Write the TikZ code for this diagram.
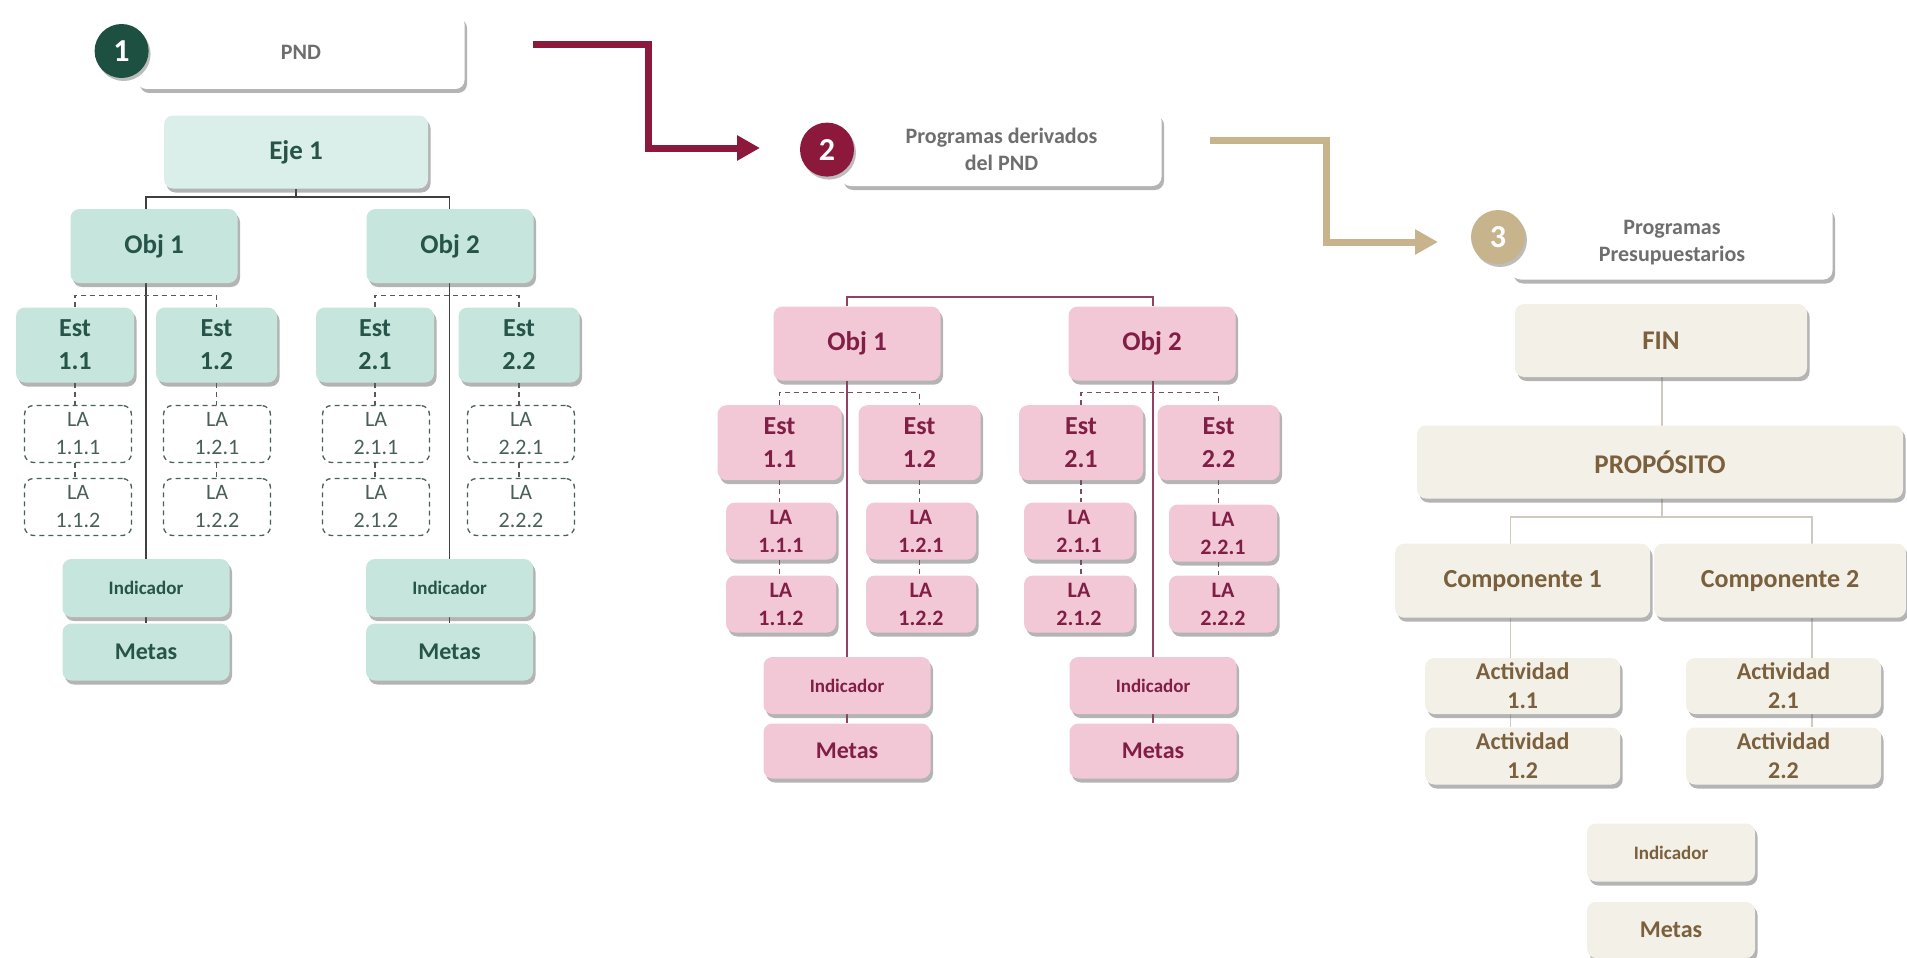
\documentclass[tikz,border=0pt]{standalone}
\usepackage{fontspec}
\setmainfont{Carlito}
\usetikzlibrary{shadows,arrows.meta,backgrounds}
\definecolor{gfill}{HTML}{C6E5DD}
\definecolor{gfillL}{HTML}{DAEFEA}
\definecolor{gtext}{HTML}{265448}
\definecolor{gdark}{HTML}{1E5041}
\definecolor{gla}{HTML}{4A5F59}
\definecolor{pfill}{HTML}{F3C8D6}
\definecolor{ptext}{HTML}{801E46}
\definecolor{pdark}{HTML}{8C193C}
\definecolor{tfill}{HTML}{F3F0E8}
\definecolor{ttext}{HTML}{7A603C}
\definecolor{tdark}{HTML}{C8B48C}
\definecolor{tline}{HTML}{CFCAC0}
\definecolor{htext}{HTML}{6E6E6E}
\tikzset{
  box/.style={rounded corners=9pt, align=center, inner sep=2pt,
    drop shadow={shadow xshift=2.5pt, shadow yshift=-4pt, opacity=0.45, fill=black!65}},
  wh/.style 2 args={minimum width=#1pt, minimum height=#2pt},
  gbox/.style={box, fill=gfill, text=gtext},
  pbox/.style={box, fill=pfill, text=ptext},
  tbox/.style={box, fill=tfill, text=ttext},
  hbox/.style={box, fill=white, text=htext, font=\bfseries\fontsize{22}{27}\selectfont},
  glabox/.style={rounded corners=9pt, align=center, inner sep=2pt, fill=white,
    draw=gla, line width=1.3pt, dash pattern=on 5pt off 4pt, text=gla,
    font=\fontsize{22}{28}\selectfont},
  num/.style={circle, minimum size=54pt, inner sep=0pt, text=white,
    font=\bfseries\fontsize{32}{36}\selectfont,
    drop shadow={shadow xshift=2pt, shadow yshift=-3pt, opacity=0.4, fill=black!65}},
  fObj/.style={font=\bfseries\fontsize{27}{33}\selectfont},
  fEst/.style={font=\bfseries\fontsize{26}{33}\selectfont},
  fLA/.style={font=\bfseries\fontsize{22}{28}\selectfont},
  fInd/.style={font=\bfseries\fontsize{19}{24}\selectfont},
  fMet/.style={font=\bfseries\fontsize{24}{28}\selectfont},
  fAct/.style={font=\bfseries\fontsize{24}{29}\selectfont},
  gline/.style={draw=black!75, line width=1.6pt},
  gdash/.style={draw=black!65, line width=1.3pt, dash pattern=on 5pt off 4pt},
  pline/.style={draw=ptext!85, line width=1.6pt},
  pdash/.style={draw=ptext!55!gray, line width=1.3pt, dash pattern=on 5pt off 4pt},
  tl/.style={draw=tline, line width=1.5pt},
  bigarrow/.style={line width=7pt, -{Triangle[length=23pt,width=24pt]}},
}
\begin{document}
\begin{tikzpicture}[x=1pt,y=-1pt]
\useasboundingbox (0,0) rectangle (1907,958);

% ---------------- Section 1 (green) ----------------
\node[hbox, wh={327}{74}] (pnd) at (301,52) {PND};
\node[num, fill=gdark] (c1) at (121.6,51) {1};
\node[gbox, fill=gfillL, wh={264}{73}, fObj] (eje) at (296,152) {Eje 1};
\node[gbox, wh={167}{74}, fObj] (go1) at (154,246) {Obj 1};
\node[gbox, wh={167}{74}, fObj] (go2) at (450,246) {Obj 2};
\node[gbox, wh={118}{75}, fEst] (ge11) at (75,345) {Est\\1.1};
\node[gbox, wh={121}{75}, fEst] (ge12) at (216.5,345) {Est\\1.2};
\node[gbox, wh={118}{75}, fEst] (ge21) at (375,345) {Est\\2.1};
\node[gbox, wh={121}{75}, fEst] (ge22) at (519,345) {Est\\2.2};
\node[glabox, wh={107}{57}] (gl111) at (78,434) {LA\\1.1.1};
\node[glabox, wh={107}{57}] (gl112) at (78,507) {LA\\1.1.2};
\node[glabox, wh={107}{57}] (gl121) at (217,434) {LA\\1.2.1};
\node[glabox, wh={107}{57}] (gl122) at (217,507) {LA\\1.2.2};
\node[glabox, wh={107}{57}] (gl211) at (376,434) {LA\\2.1.1};
\node[glabox, wh={107}{57}] (gl212) at (376,507) {LA\\2.1.2};
\node[glabox, wh={107}{57}] (gl221) at (521,434) {LA\\2.2.1};
\node[glabox, wh={107}{57}] (gl222) at (521,507) {LA\\2.2.2};
\node[gbox, wh={167}{58}, fInd] (gi1) at (146,588) {Indicador};
\node[gbox, wh={167}{57}, fMet] (gm1) at (146,652) {Metas};
\node[gbox, wh={167}{58}, fInd] (gi2) at (449.5,588) {Indicador};
\node[gbox, wh={167}{57}, fMet] (gm2) at (449.5,652) {Metas};
\coordinate (gj) at (296,197);
\coordinate (gd1) at (0,295.5);

% ---------------- Section 2 (pink) ----------------
\node[hbox, wh={320}{74}] (pdr) at (1001.5,149) {Programas derivados\\del PND};
\node[num, fill=pdark] (c2) at (827,149.6) {2};
\node[pbox, wh={167}{74}, fObj] (po1) at (857,343.6) {Obj 1};
\node[pbox, wh={167}{74}, fObj] (po2) at (1152,343.6) {Obj 2};
\node[pbox, wh={124}{75}, fEst] (pe11) at (779.6,442.7) {Est\\1.1};
\node[pbox, wh={122}{75}, fEst] (pe12) at (919.5,442.7) {Est\\1.2};
\node[pbox, wh={124}{75}, fEst] (pe21) at (1081,442.7) {Est\\2.1};
\node[pbox, wh={122}{75}, fEst] (pe22) at (1218.6,442.7) {Est\\2.2};
\node[pbox, wh={110}{57}, fLA] (pl111) at (781,531) {LA\\1.1.1};
\node[pbox, wh={110}{57}, fLA] (pl112) at (781,604) {LA\\1.1.2};
\node[pbox, wh={110}{57}, fLA] (pl121) at (921,531) {LA\\1.2.1};
\node[pbox, wh={110}{57}, fLA] (pl122) at (921,604) {LA\\1.2.2};
\node[pbox, wh={110}{57}, fLA] (pl211) at (1079,531) {LA\\2.1.1};
\node[pbox, wh={110}{57}, fLA] (pl212) at (1079,604) {LA\\2.1.2};
\node[pbox, wh={108}{57}, fLA] (pl221) at (1223,533) {LA\\2.2.1};
\node[pbox, wh={108}{57}, fLA] (pl222) at (1223,604) {LA\\2.2.2};
\node[pbox, wh={167}{57}, fInd] (pi1) at (847,685.5) {Indicador};
\node[pbox, wh={167}{55}, fMet] (pm1) at (847,751) {Metas};
\node[pbox, wh={167}{57}, fInd] (pi2) at (1153,685.5) {Indicador};
\node[pbox, wh={167}{55}, fMet] (pm2) at (1153,751) {Metas};
\coordinate (pj) at (0,296.7);
\coordinate (pd1) at (0,392.8);

% ---------------- Section 3 (tan) ----------------
\node[hbox, wh={321}{73}] (ppp) at (1672,243) {Programas\\Presupuestarios};
\node[num, fill=tdark] (c3) at (1498,237) {3};
\node[tbox, wh={292}{73}, fObj] (tfin) at (1661,340.5) {FIN};
\node[tbox, wh={486}{73}, fObj] (tprop) at (1660,462) {PROPÓSITO};
\node[tbox, wh={255}{74}, fEst] (tc1) at (1522.7,580.7) {Componente 1};
\node[tbox, wh={252}{74}, fEst] (tc2) at (1780,580.7) {Componente 2};
\node[tbox, wh={195}{56}, fAct] (ta11) at (1522.7,686) {Actividad\\1.1};
\node[tbox, wh={195}{57}, fAct] (ta12) at (1522.7,756) {Actividad\\1.2};
\node[tbox, wh={195}{56}, fAct] (ta21) at (1783.5,686) {Actividad\\2.1};
\node[tbox, wh={195}{57}, fAct] (ta22) at (1783.5,756) {Actividad\\2.2};
\node[tbox, wh={168}{58}, fInd] (ti) at (1671,852.5) {Indicador};
\node[tbox, wh={168}{56}, fMet] (tm) at (1671,930) {Metas};
\coordinate (tj) at (1662,517);
\coordinate (tl1) at (1510.5,0);
\coordinate (tl2) at (1812,0);

% ---------------- Big arrows ----------------
\coordinate (a1s) at (533,45);
\coordinate (a1m) at (648,45);
\coordinate (a1e) at (760,148);
\coordinate (a2s) at (1210,140);
\coordinate (a2m) at (1326,140);
\coordinate (a2e) at (1438,242);
\draw[bigarrow, draw=pdark] (a1s) -- (a1m) |- (a1e);
\draw[bigarrow, draw=tdark] (a2s) -- (a2m) |- (a2e);

% ---------------- Connectors (behind) ----------------
\begin{pgfonlayer}{background}
% green
\draw[gline] (eje.south) -- (gj);
\draw[gline] (gi1 |- go1.north) |- (gj) -| (gi2 |- go2.north);
\draw[gline] (gi1 |- go1.south) -- (gm1.north);
\draw[gline] (gi2 |- go2.south) -- (gm2.north);
\draw[gdash] (ge11.north) -- (ge11.north |- gd1) -- (ge12.north |- gd1) -- (ge12.north);
\draw[gdash] (ge21.north) -- (ge21.north |- gd1) -- (ge22.north |- gd1) -- (ge22.north);
\foreach \e/\a/\b in {ge11/gl111/gl112, ge12/gl121/gl122, ge21/gl211/gl212, ge22/gl221/gl222}{
  \draw[gdash] (\e.south) -- (\e.south |- \a.north);
  \draw[gdash] (\e.south |- \a.south) -- (\e.south |- \b.north);
}
% pink
\draw[pline] (pi1 |- po1.north) -- (pi1 |- pj) -- (pi2 |- pj) -- (pi2 |- po2.north);
\draw[pline] (pi1 |- po1.south) -- (pm1.north);
\draw[pline] (pi2 |- po2.south) -- (pm2.north);
\draw[pdash] (pe11.north) -- (pe11.north |- pd1) -- (pe12.north |- pd1) -- (pe12.north);
\draw[pdash] (pe21.north) -- (pe21.north |- pd1) -- (pe22.north |- pd1) -- (pe22.north);
\foreach \e/\a/\b in {pe11/pl111/pl112, pe12/pl121/pl122, pe21/pl211/pl212, pe22/pl221/pl222}{
  \draw[pdash] (\e.south) -- (\e.south |- \a.north);
  \draw[pdash] (\e.south |- \a.south) -- (\e.south |- \b.north);
}
% tan
\draw[tl] (tfin.south -| tj) -- (tj);
\draw[tl] (tl1 |- tc1.north) |- (tj) -| (tl2 |- tc2.north);
\draw[tl] (tl1 |- tc1.south) -- (tl1 |- ta12.north);
\draw[tl] (tl2 |- tc2.south) -- (tl2 |- ta22.north);
\end{pgfonlayer}
\end{tikzpicture}
\end{document}
